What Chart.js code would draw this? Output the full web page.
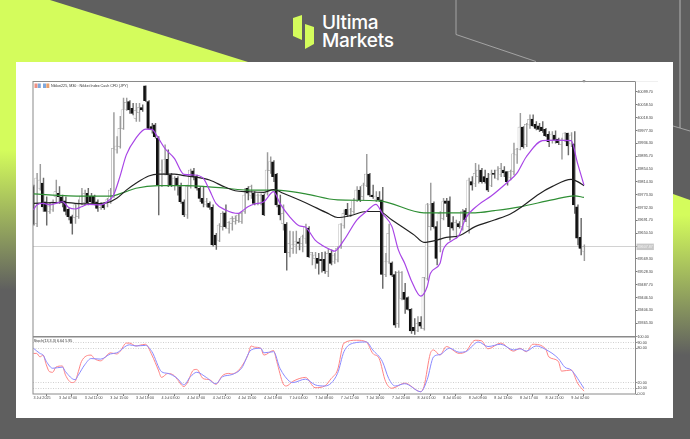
<!DOCTYPE html>
<html>
<head>
<meta charset="utf-8">
<title>Nikkei225 M30</title>
<script src="https://cdn.jsdelivr.net/npm/chart.js@4/dist/chart.umd.min.js"></script>
<style>
html, body { margin: 0; padding: 0; background: #5f5f5f; overflow: hidden; }
#stage { position: relative; width: 690px; height: 439px; overflow: hidden; }
#bg { position: absolute; left: 0; top: 0; }
#panel { position: absolute; left: 16px; top: 62px; width: 657px; height: 356px; background: #fff; }
#logoText { position: absolute; left: 322px; top: 14px; color: #fff; font-family: Inter, sans-serif; font-weight: 500; font-size: 19px; line-height: 18px; letter-spacing: -0.3px; }
#myChart { position: absolute; left: 0; top: 0; filter: blur(0.3px); }
</style>
</head>
<body>
<div id="stage">
  <svg id="bg" width="690" height="439">
    <defs>
      <linearGradient id="fadeLeft" gradientUnits="userSpaceOnUse" x1="0" y1="150" x2="0" y2="290">
        <stop offset="0" stop-color="#d4fc5c"/><stop offset="1" stop-color="#5f5f5f"/>
      </linearGradient>
      <linearGradient id="fadeRight" gradientUnits="userSpaceOnUse" x1="0" y1="215" x2="0" y2="355">
        <stop offset="0" stop-color="#d4fc5c"/><stop offset="1" stop-color="#5f5f5f"/>
      </linearGradient>
    </defs>
    <polygon points="0,0 50,0 248,62 16,62 16,290 0,290" fill="url(#fadeLeft)"/>
    <polygon points="673,194 690,200 690,355 673,355" fill="url(#fadeRight)"/>
    <polyline points="456,0 456,34.5 536,61.5" fill="none" stroke="#b5b5b5" stroke-width="0.8"/>
    <polyline points="680,0 680,128" fill="none" stroke="#b5b5b5" stroke-width="1"/>
    <polyline points="673,126 690,131" fill="none" stroke="#b5b5b5" stroke-width="0.8"/>
    <polygon points="293,18 302,15 302,40 293,36" fill="#d4fc5c"/>
    <polygon points="305,24 314,27 314,44 305,49" fill="#d4fc5c"/>
  </svg>
  <div id="logoText">Ultima<br>Markets</div>
  <div id="panel"></div>
  <canvas id="myChart" width="690" height="439"></canvas>
</div>
<script>
var chartTitle = "Nikkei225, M30 : Nikkei Index Cash CFD (JPY)";
var stochTitle = "Stoch(13,3,3) 6.64 5.95";
var lastPrice = 39607.87;

var tickLabels = ["3 Jul 2025", "3 Jul 07:00", "3 Jul 11:00", "3 Jul 15:00", "3 Jul 19:00", "4 Jul 03:00", "4 Jul 07:00", "4 Jul 11:00",
    "4 Jul 15:00", "4 Jul 19:00", "7 Jul 04:00", "7 Jul 08:00", "7 Jul 12:00", "7 Jul 16:00", "7 Jul 20:00", "8 Jul 01:00",
    "8 Jul 05:00", "8 Jul 09:00", "8 Jul 13:00", "8 Jul 17:00", "8 Jul 21:00", "9 Jul 02:00"];
var priceTicks = [40099.70, 40058.50, 40018.30, 39977.30, 39936.30, 39895.70, 39854.50, 39814.30, 39773.30, 39732.30, 39691.70,
    39650.50, 39607.87, 39569.30, 39528.30, 39487.70, 39446.50, 39406.30, 39365.30];
var stochTicks = [100, 90, 80, 20, 10, 0];

var opens = [39799,39682,39794,39810,39751,39720,39725,39767,39778,39767,
39754,39727,39704,39701,39704,39746,39748,39778,39769,39769,
39751,39732,39743,39746,39748,39767,39916,39926,39984,40045,
40069,40048,40016,40034,40050,40119,40069,39990,39995,39953,
39804,39841,39886,39836,39804,39826,39799,39751,39709,39799,
39849,39831,39794,39762,39741,39746,39733,39645,39629,39672,
39716,39667,39682,39688,39691,39688,39720,39794,39772,39778,
39746,39746,39772,39776,39850,39878,39839,39741,39682,39680,
39589,39603,39614,39624,39619,39635,39667,39582,39571,39571,
39568,39568,39529,39587,39560,39566,39608,39677,39727,39709,
39720,39754,39788,39767,39804,39839,39772,39757,39765,39757,
39520,39560,39557,39520,39364,39444,39463,39447,39409,39352,
39341,39368,39349,39508,39672,39746,39672,39635,39698,39754,
39754,39685,39640,39682,39672,39723,39672,39815,39810,39831,
39852,39831,39826,39804,39841,39826,39839,39852,39847,39829,
39847,39900,39918,39988,39932,39995,40014,39997,39992,39988,
39981,39965,39947,39963,39950,39932,39947,39969,39935,39935,
39735,39638,39594];
var highs = [39804,39841,39870,39826,39767,39746,39757,39820,39799,39772,
39767,39730,39709,39746,39757,39794,39788,39794,39778,39772,
39757,39748,39748,39762,39794,40034,39958,40022,40080,40080,
40072,40064,40064,40064,40059,40119,40072,40000,40000,39958,
39884,39932,39916,39841,39831,39831,39810,39757,39804,39855,
39857,39836,39799,39799,39762,39751,39741,39651,39682,39720,
39741,39688,39704,39706,39714,39720,39794,39799,39804,39783,
39776,39776,39776,39907,39894,39882,39841,39772,39741,39685,
39658,39656,39658,39635,39645,39680,39672,39590,39590,39587,
39590,39592,39600,39598,39587,39608,39682,39725,39746,39730,
39762,39799,39799,39810,39902,39841,39804,39783,39783,39797,
39587,39680,39560,39529,39532,39529,39492,39449,39412,39380,
39386,39386,39511,39746,39810,39751,39688,39720,39762,39762,
39767,39704,39693,39688,39727,39730,39826,39831,39873,39868,
39857,39852,39841,39852,39852,39863,39873,39863,39847,39852,
39937,39921,40032,39990,40000,40027,40027,40006,40000,40006,
39984,39974,39974,39976,39953,39953,39971,39969,39971,39974,
39741,39698,39614];
var lows = [39677,39672,39788,39720,39677,39714,39720,39746,39746,39735,
39709,39693,39648,39682,39698,39741,39741,39741,39746,39741,
39720,39727,39727,39735,39746,39765,39905,39921,39981,40041,
40032,40027,40006,40006,40038,40069,39981,39969,39953,39709,
39799,39836,39799,39799,39788,39772,39746,39704,39698,39794,
39820,39788,39751,39735,39735,39727,39610,39600,39624,39661,
39667,39651,39661,39680,39685,39682,39714,39757,39762,39741,
39741,39741,39707,39772,39841,39815,39735,39693,39661,39534,
39576,39587,39587,39598,39592,39619,39574,39550,39539,39521,
39527,39523,39513,39550,39555,39560,39603,39667,39704,39704,
39714,39751,39751,39757,39799,39767,39762,39751,39751,39476,
39513,39555,39513,39352,39352,39439,39396,39407,39333,39330,
39338,39349,39343,39502,39661,39667,39550,39592,39693,39704,
39629,39661,39635,39667,39661,39688,39651,39788,39799,39810,
39810,39810,39783,39799,39826,39820,39831,39831,39804,39820,
39836,39873,39916,39921,39926,39984,39990,39979,39974,39971,
39958,39926,39937,39937,39932,39886,39942,39900,39926,39714,
39614,39582,39564];
var closes = [39680,39826,39820,39735,39720,39735,39751,39783,39767,39751,
39720,39704,39682,39741,39741,39769,39778,39748,39751,39746,
39730,39743,39732,39757,39788,39921,39928,39984,40043,40067,
40043,40032,40041,40050,40043,40072,39984,39979,39958,39804,
39852,39884,39836,39804,39826,39804,39751,39709,39799,39852,
39831,39794,39762,39746,39751,39733,39614,39614,39677,39714,
39672,39685,39698,39698,39709,39714,39772,39778,39799,39746,
39772,39772,39709,39852,39878,39831,39741,39709,39714,39589,
39619,39614,39624,39619,39640,39672,39576,39590,39582,39555,
39564,39531,39587,39555,39582,39603,39680,39714,39709,39725,
39754,39788,39757,39804,39839,39772,39767,39769,39757,39520,
39560,39651,39518,39359,39527,39527,39441,39409,39341,39341,
39364,39356,39511,39741,39741,39672,39571,39714,39751,39746,
39672,39667,39685,39672,39720,39693,39820,39804,39841,39852,
39815,39815,39788,39839,39838,39852,39857,39843,39815,39847,
39903,39918,39988,39926,39997,40013,39992,39984,39981,39977,
39960,39942,39966,39947,39939,39947,39969,39928,39963,39741,
39635,39603,39608];

var fastBars = [0,1,3,5,7,9,11,13,15,17,21,23,25,27,29,32,35,37,39,41,44,47,50,53,55,57,60,64,65,67,69,72,75,77,80,83,85,88,90,93,94,97,101,104,107,109,112,114,116,118,121,123,124,127,128,131,133,135,139,143,148,151,154,159,163,168,170,172];
var fastVals = [39725,39741,39746,39741,39746,39751,39733,39728,39735,39743,39741,39751,39772,39831,39900,39953,39982,39981,39953,39921,39889,39838,39836,39826,39788,39746,39725,39714,39720,39735,39744,39751,39783,39746,39704,39675,39670,39629,39614,39598,39594,39629,39693,39720,39743,39714,39672,39598,39555,39502,39451,39481,39523,39555,39598,39629,39645,39698,39741,39769,39812,39841,39894,39945,39947,39945,39873,39804];
var midBars = [0,6,10,13,17,23,26,29,32,36,39,44,47,51,55,60,63,67,72,75,78,85,92,95,99,104,108,112,119,122,126,129,133,138,144,149,153,158,162,168,170,172];
var midVals = [39746,39748,39749,39746,39744,39748,39762,39788,39810,39833,39839,39839,39834,39829,39820,39797,39786,39783,39781,39790,39778,39748,39714,39701,39707,39720,39720,39693,39645,39622,39629,39638,39643,39672,39693,39712,39738,39776,39799,39822,39815,39802];
var slowBars = [0,11,24,28,32,39,48,54,60,67,76,85,95,108,122,138,144,152,162,169,172];
var slowVals = [39776,39770,39769,39780,39794,39802,39802,39799,39794,39788,39788,39776,39757,39754,39716,39716,39723,39735,39757,39770,39765];

var stochKBars = [0,1,2,3,4,5,6,7,9,10,12,13,14,15,18,19,21,22,24,26,27,29,30,32,33,35,37,39,40,42,44,45,47,48,50,51,53,55,57,59,61,62,64,65,67,68,69,71,72,75,76,78,79,81,85,88,91,93,95,97,101,104,106,108,110,112,116,121,122,124,125,127,129,133,135,138,140,142,146,150,152,154,156,160,161,164,165,168,170,172];
var stochKVals = [71,71,65,68,51,39,38,47,49,33,20,22,39,57,68,62,58,62,72,70,74,89,89,84,85,87,68,42,29,36,32,25,13,19,42,43,27,25,17,32,36,35,41,48,68,84,82,80,68,76,57,18,14,22,29,11,14,27,42,89,94,91,71,62,22,10,19,4,13,71,77,68,83,71,74,94,93,79,89,75,80,74,87,79,65,57,40,42,19,5];
var stochDBars = [0,2,3,4,6,9,10,13,14,16,18,21,24,26,30,32,35,37,40,42,45,47,49,51,54,57,59,62,65,68,71,72,75,77,80,81,85,88,91,95,97,100,104,106,109,111,113,116,121,123,125,127,130,133,135,139,142,146,150,152,154,157,160,164,166,168,172];
var stochDVals = [80,71,68,57,45,47,39,25,33,51,62,61,70,72,86,84,85,74,39,36,27,16,30,38,29,18,30,34,45,77,80,72,74,45,22,20,26,16,14,36,74,89,91,77,57,27,14,18,4,25,65,69,80,73,74,91,83,87,77,79,75,84,78,62,47,42,10];

var barCount = 188;

var toPoints = (bars, vals) => bars.map((bar, i) => ({ x: bar, y: vals[i] }));

var getCandleData = (topArr, bottomArr) => topArr.map((top, i) => ({ x: i, y: [bottomArr[i], top] }));

var isUp = (ctx) => closes[ctx.dataIndex] >= opens[ctx.dataIndex];

var lineDataset = (bars, vals, color, axis, width) => ({
    type: "line",
    data: toPoints(bars, vals),
    yAxisID: axis,
    borderColor: color,
    borderWidth: width,
    pointRadius: 0,
    cubicInterpolationMode: "monotone",
    order: 1
});

var panelText = {
    id: "panelText",
    afterDatasetsDraw: (chart) => {
        let c = chart.ctx;
        let area = chart.chartArea;
        let main = chart.scales.y;
        let sub = chart.scales.yStoch;
        c.save();
        c.strokeStyle = "#8a8a8a";
        c.lineWidth = 1;
        c.strokeRect(area.left, main.top, area.right - area.left, area.bottom - main.top);
        c.lineWidth = 1.6;
        c.beginPath();
        c.moveTo(area.left, sub.top);
        c.lineTo(area.right, sub.top);
        c.stroke();
        c.strokeStyle = "#ececec";
        c.lineWidth = 0.8;
        c.beginPath();
        c.moveTo(area.right, main.top);
        c.lineTo(658, main.top);
        c.stroke();
        c.fillStyle = "#ef8f82";
        c.fillRect(34.5, 83.5, 3, 4.5);
        c.fillStyle = "#7fa8dc";
        c.fillRect(37.8, 83.5, 3, 4.5);
        c.fillStyle = "#7fa8dc";
        c.fillRect(43, 83.5, 3, 4.5);
        c.fillStyle = "#e8a06e";
        c.fillRect(46.3, 83.5, 3, 4.5);
        c.fillStyle = "#999";
        c.beginPath();
        c.moveTo(582.5, 80);
        c.lineTo(585.5, 80);
        c.lineTo(584, 83);
        c.fill();
        c.fillStyle = "#333";
        c.font = '3.7px "Liberation Sans"';
        c.textBaseline = "middle";
        c.fillText(chartTitle, 51, 85.8);
        c.fillText(stochTitle, 33.8, 341);
        c.restore();
    }
};

window.onload = () => {
    let ctx = document.getElementById("myChart").getContext("2d");
    let tickFont = { family: "Liberation Sans", size: 3.7 };

    new Chart(ctx, {
        type: "bar",
        data: {
            datasets: [
                lineDataset(fastBars, fastVals, "#a845e6", "y", 1.2),
                lineDataset(midBars, midVals, "#222222", "y", 1.2),
                lineDataset(slowBars, slowVals, "#2f8f35", "y", 1.2),
                lineDataset(stochDBars, stochDVals, "#8a8aff", "yStoch", 1),
                lineDataset(stochKBars, stochKVals, "#ff8484", "yStoch", 1),
                {
                    label: "body",
                    data: getCandleData(opens, closes),
                    yAxisID: "y",
                    barThickness: 2,
                    backgroundColor: (c) => isUp(c) ? "#ffffff" : "#111111",
                    borderColor: (c) => isUp(c) ? "#8f8f8f" : "#111111",
                    borderWidth: 0.5,
                    borderSkipped: false,
                    order: 2
                },
                {
                    label: "wick",
                    data: getCandleData(highs, lows),
                    yAxisID: "y",
                    barThickness: 0.8,
                    backgroundColor: (c) => isUp(c) ? "#9c9c9c" : "#6a6a6a",
                    order: 3
                }
            ]
        },
        options: {
            responsive: false,
            animation: false,
            devicePixelRatio: 1,
            layout: { padding: { left: 33, top: 81.5, right: 32.5, bottom: 35 } },
            plugins: { legend: { display: false }, tooltip: { enabled: false }, title: { display: false } },
            scales: {
                x: {
                    type: "linear",
                    offset: false,
                    min: -0.16,
                    max: barCount + 0.1,
                    afterBuildTicks: (axis) => {
                        axis.ticks = tickLabels.map((label, i) => ({ value: i * 8 }));
                    },
                    afterFit: (axis) => { axis.height = 10; },
                    ticks: {
                        autoSkip: false,
                        maxRotation: 0,
                        align: "start",
                        padding: 0,
                        color: "#444",
                        font: tickFont,
                        callback: (value) => tickLabels[value / 8]
                    },
                    grid: { drawOnChartArea: false, tickLength: 2, tickColor: "#777" },
                    border: { display: false }
                },
                y: {
                    position: "right",
                    stack: "panes",
                    stackWeight: 254.5,
                    min: 39322,
                    max: 40133,
                    afterBuildTicks: (axis) => {
                        axis.ticks = priceTicks.map((value) => ({ value: value }));
                    },
                    afterFit: (axis) => { axis.width = 22; },
                    ticks: {
                        autoSkip: false,
                        padding: 0,
                        font: tickFont,
                        color: (c) => c.tick.value === lastPrice ? "#f2f2f2" : "#444",
                        showLabelBackdrop: (c) => c.tick.value === lastPrice,
                        backdropColor: "#c8c8c8",
                        backdropPadding: 1,
                        callback: (value) => value.toFixed(2)
                    },
                    grid: {
                        color: (c) => c.tick && c.tick.value === lastPrice ? "#d2d2d2" : "rgba(0,0,0,0)",
                        tickColor: "#777",
                        tickLength: 2,
                        lineWidth: 1
                    },
                    border: { display: false }
                },
                yStoch: {
                    position: "right",
                    stack: "panes",
                    stackWeight: 57,
                    min: 0,
                    max: 100,
                    afterBuildTicks: (axis) => {
                        axis.ticks = stochTicks.map((value) => ({ value: value }));
                    },
                    afterFit: (axis) => { axis.width = 22; },
                    ticks: {
                        autoSkip: false,
                        padding: 0,
                        font: tickFont,
                        color: "#444",
                        callback: (value) => value.toFixed(2)
                    },
                    grid: {
                        color: (c) => c.tick && (c.tick.value === 0 || c.tick.value === 100) ? "rgba(0,0,0,0)" : "#c4c4c4",
                        tickColor: "#777",
                        tickLength: 2,
                        lineWidth: 0.8
                    },
                    border: { display: false, dash: [1, 1.5] }
                }
            }
        },
        plugins: [panelText]
    });
};
</script>
</body>
</html>
